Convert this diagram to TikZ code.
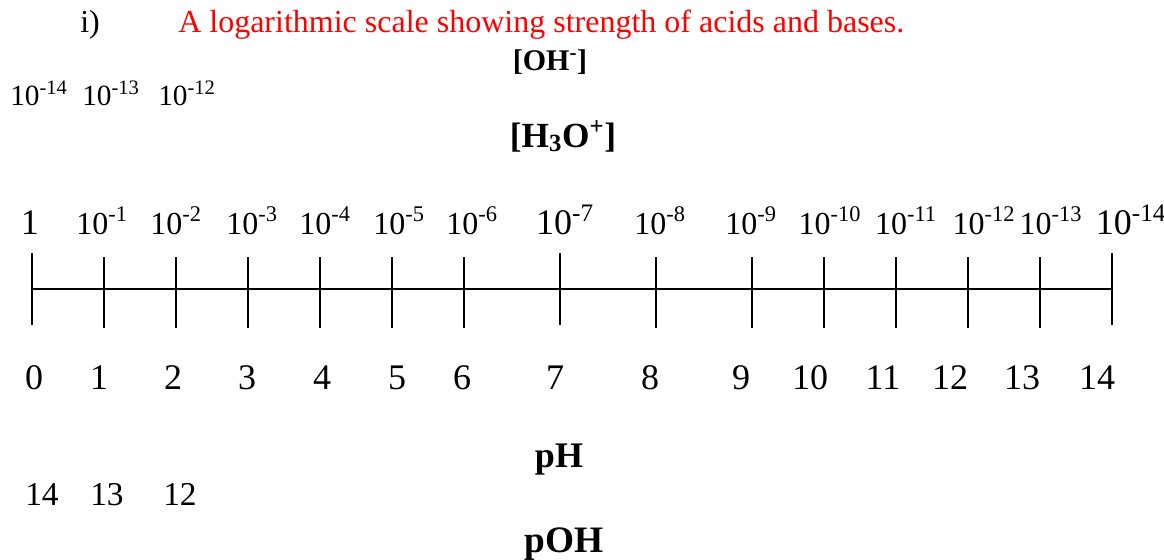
\documentclass[tikz,border=0pt]{standalone}
\usepackage{fontspec}
\setmainfont{Liberation Serif}
\usepackage{xcolor}
\usetikzlibrary{positioning,calc}

\begin{document}
\begin{tikzpicture}[x=0.75pt,y=-0.75pt,
            lbl/.style={anchor=base, inner sep=0pt, font=\fontsize{24}{28}\selectfont},
            biglbl/.style={anchor=base, inner sep=0pt, font=\fontsize{27}{30}\selectfont},
            heading/.style={anchor=base, inner sep=0pt, font=\bfseries\fontsize{#1}{30}\selectfont},
            tickline/.style={line width=2.2pt},
            axisline/.style={line width=1.5pt}]
            \useasboundingbox (0,0) rectangle (1164,560);

            % Title
            \node[lbl, anchor=base west] (num) at (80,33) {i)};
            \node[lbl, anchor=base west, text=red] (title) at (178,33)
                {A logarithmic scale showing strength of acids and bases.};

            % Concentration headings
            \node[heading=22.5] (oh) at (550,70) {[OH\textsuperscript{-}]};
            \node[heading=26.5] (h3o) at (563,147) {[H\textsubscript{3}O\textsuperscript{+}]};
            \node[lbl, anchor=base west, font=\fontsize{22}{26}\selectfont] (oh14) at (10,105) {10\textsuperscript{-14}};
            \node[lbl, anchor=base west, font=\fontsize{22}{26}\selectfont] (oh13) at (82,105) {10\textsuperscript{-13}};
            \node[lbl, anchor=base west, font=\fontsize{22}{26}\selectfont] (oh12) at (158,105) {10\textsuperscript{-12}};

            % Scale
            \foreach \x/\n in {32/0,104/1,176/2,248/3,320/4,392/5,464/6,560/7,656/8,752/9,824/10,896/11,968/12,1040/13,1112/14}
                \coordinate (t\n) at (\x,289);
            \draw[axisline] (t0) -- (t14);
            \foreach \n in {1,2,3,4,5,6,8,9,10,11,12,13}
                \draw[tickline] ($(t\n)+(0,-32)$) -- ($(t\n)+(0,39)$);
            \foreach \n in {0,7,14}
                \draw[tickline] ($(t\n)+(0,-36)$) -- ($(t\n)+(0,36)$);

            % [H3O+] values
            \node[biglbl] (c0) at (30,234) {1};
            \foreach \x/\n in {102/1,176/2,252/3,325/4,399/5,472/6,660/8,751/9,830/10,906/11,984/12,1051/13}
                \node[lbl] (c\n) at (\x,234) {10\textsuperscript{-\n}};
            \node[biglbl] (c7) at (565,234) {10\textsuperscript{-7}};
            \node[biglbl] (c14) at (1131,234) {10\textsuperscript{-14}};

            % pH values
            \foreach \x/\n in {34/0,99/1,173/2,247/3,322/4,397/5,462/6,555/7,650/8,741/9,810/10,883/11,950/12,1022/13,1097/14}
                \node[biglbl] (p\n) at (\x,389) {\n};
            \node[heading=27] (ph) at (559,467) {pH};

            % pOH values
            \node[lbl, anchor=base west, font=\fontsize{25}{28}\selectfont] (q14) at (25,505) {14};
            \node[lbl, anchor=base west, font=\fontsize{25}{28}\selectfont] (q13) at (90,505) {13};
            \node[lbl, anchor=base west, font=\fontsize{25}{28}\selectfont] (q12) at (163,505) {12};
            \node[heading=28] (poh) at (564,552) {pOH};
        \end{tikzpicture}
\end{document}
